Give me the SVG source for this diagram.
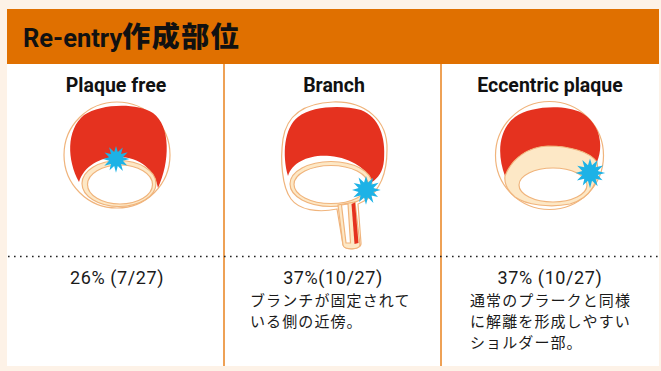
<svg xmlns="http://www.w3.org/2000/svg" xmlns:xlink="http://www.w3.org/1999/xlink" width="661" height="371" viewBox="0 0 661 371">
  <style>
    .title { font-family: Roboto, "Liberation Sans", "Noto Sans CJK JP", sans-serif; font-weight: 700; fill: #111; }
    .head { font-family: Roboto, "Liberation Sans", sans-serif; font-weight: 700; font-size: 19.5px; fill: #111; text-anchor: middle; }
    .pct { font-family: Roboto, "Liberation Sans", "Noto Sans CJK JP", sans-serif; font-size: 18px; letter-spacing: 0.6px; fill: #1a1a1a; text-anchor: middle; }
    .note { font-family: "Noto Sans CJK JP", sans-serif; font-size: 15px; letter-spacing: 1.1px; fill: #1a1a1a; }
    .wall { fill: #fff; stroke: #f0b47c; stroke-width: 1.2; }
    .plaque { fill: #fde8c6; stroke: #f0b47c; stroke-width: 1.2; }
    .lumen { fill: #fff; stroke: #f0b47c; stroke-width: 1.2; }
    .red { fill: #e5321f; }
    .tear { fill: #1db2e6; }
    .divider { stroke: #e8821e; stroke-width: 1.5; }
    .dots { stroke: #222; stroke-width: 1.6; stroke-dasharray: 1.6 4.4; }
  </style>
  <defs>
    <!-- spiky tear marker, centred on 0,0 -->
    <path id="star" d="M0,-10 L1.4,-5.3 L5.2,-8.8 L3.9,-3.9 L9,-5.2 L5.3,-1.4 L10.5,0 L5.3,1.4 L8.6,5 L3.9,3.9 L5.3,9.2 L1.4,5.3 L0,10.5 L-1.4,5.3 L-5,8.6 L-3.9,3.9 L-9,5.2 L-5.3,1.4 L-10,0 L-5.3,-1.4 L-8.8,-5 L-3.9,-3.9 L-5.3,-9 L-1.4,-5.3 Z"/>
  </defs>

  <!-- page background and card -->
  <rect x="0" y="0" width="661" height="371" fill="#fdf2e7"/>
  <rect x="7" y="9" width="652" height="357" fill="#fff"/>

  <!-- header band -->
  <g id="header">
    <rect x="7" y="9" width="652" height="55" fill="#e07000"/>
    <text class="title" x="23" y="47" font-size="25.5">Re-entry<tspan font-size="28" letter-spacing="1.5" font-weight="900" font-family="'Noto Sans CJK JP', sans-serif">作成部位</tspan></text>
  </g>

  <!-- column rules -->
  <g id="rules">
    <line class="divider" x1="224" y1="64" x2="224" y2="366"/>
    <line class="divider" x1="441" y1="64" x2="441" y2="366"/>
    <line class="dots" x1="8" y1="256.5" x2="659" y2="256.5"/>
  </g>

  <!-- column 1: plaque free -->
  <g id="plaque-free">
    <text class="head" x="116" y="92">Plaque free</text>
    <circle class="wall" cx="117" cy="155" r="53"/>
    <path class="red" d="M79,182 C67,160 66,130 84,115 C100,104 136,102 153,113 C171,126 170,162 158,188 C155,170 140,157 118,157 C100,157 84,166 79,182 Z"/>
    <ellipse class="plaque" cx="119" cy="183.5" rx="37" ry="23"/>
    <ellipse class="lumen" cx="120" cy="184.5" rx="32.5" ry="19.5"/>
    <use xlink:href="#star" class="tear" transform="translate(116,159) scale(1.3)"/>
    <text class="pct" x="117" y="284">26% (7/27)</text>
  </g>

  <!-- column 2: branch -->
  <g id="branch">
    <text class="head" x="334" y="92">Branch</text>
    <path class="wall" d="M333,102 C365,101 388,120 387,150 C387,172 380,190 366,200 L358,204 L361,243 C362,250 344,251 343,245 L337,209 C318,213 299,210 291,199 C282,187 280,160 283,139 C287,114 306,103 333,102 Z"/>
    <path class="red" d="M288,176 C282,155 284,128 298,117 C312,106 342,105 361,110 C379,117 386,137 384,160 C383,172 378,178 372,182 C368,170 352,158 330,156 C310,154 292,162 288,176 Z"/>
    <ellipse class="plaque" cx="331" cy="184" rx="41" ry="22.5"/>
    <ellipse class="lumen" cx="331" cy="184.5" rx="37" ry="19"/>
    <path class="plaque" d="M338,205 L343,245 C344,250 359,250 360,245 L355,202 Z"/>
    <path class="lumen" d="M341.5,205 L346,243 L350.5,243 L348,204 Z"/>
    <path class="red" d="M351.5,204 L355,202.5 L358.5,243 L354.5,244 Z"/>
    <use xlink:href="#star" class="tear" transform="translate(366,190) scale(1.4)"/>
    <text class="pct" x="333" y="284">37%(10/27)</text>
    <text class="note" x="250" y="306">ブランチが固定されて<tspan x="250" dy="21">いる側の近傍。</tspan></text>
  </g>

  <!-- column 3: eccentric plaque -->
  <g id="eccentric-plaque">
    <text class="head" x="550" y="92">Eccentric plaque</text>
    <circle class="wall" cx="549.5" cy="155.5" r="54"/>
    <path class="red" d="M505,176 C497,155 498,130 515,117 C530,106 565,104 582,113 C600,124 604,145 597,162 C590,152 570,146 548,146 C528,147 512,158 505,176 Z"/>
    <path class="plaque" d="M505,176 C512,158 528,147 548,146 C570,146 590,152 597,162 C600,181 591,198 570,204 C550,208 526,205 515,197 C508,191 504,184 505,176 Z"/>
    <ellipse class="lumen" cx="553" cy="185" rx="34" ry="17"/>
    <use xlink:href="#star" class="tear" transform="translate(590,173) scale(1.45)"/>
    <text class="pct" x="550" y="284">37% (10/27)</text>
    <text class="note" x="470" y="306">通常のプラークと同様<tspan x="470" dy="21">に解離を形成しやすい</tspan><tspan x="470" dy="21">ショルダー部。</tspan></text>
  </g>
</svg>
